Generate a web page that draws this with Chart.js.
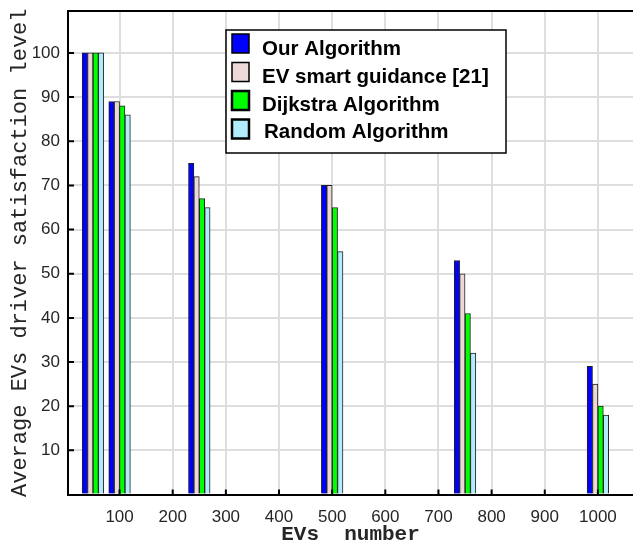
<!DOCTYPE html>
<html lang="en">
<head>
    <meta charset="UTF-8">
    <title>Average EVs driver satisfaction level</title>
    <script src="https://cdn.jsdelivr.net/npm/chart.js"></script>
    <style>
        body { margin: 0; background: #fff; }
        canvas { display: block; }
    </style>
</head>
<body>
    <canvas id="myChart" width="633" height="547"></canvas>
    <script>
        // values
        const evCounts = [50, 100, 250, 500, 750, 1000];
        const ourAlgorithm = [100, 89, 75, 70, 53, 29];
        const evSmartGuidance = [100, 89, 72, 70, 50, 25];
        const dijkstraAlgorithm = [100, 88, 67, 65, 41, 20];
        const randomAlgorithm = [100, 86, 65, 55, 32, 18];

        const seriesNames = ['Our Algorithm', 'EV smart guidance [21]', 'Dijkstra Algorithm', 'Random Algorithm'];
        const seriesColors = ['#0000ff', '#ecd8d6', '#00ff00', '#b0ecfb'];
        const seriesValues = [ourAlgorithm, evSmartGuidance, dijkstraAlgorithm, randomAlgorithm];

        const toPoints = vals => vals.map((v, i) => ({ x: evCounts[i], y: v }));

        // top frame line + inward tick marks
        const framePlugin = {
            id: 'frame',
            afterDraw(chart) {
                const ctx = chart.ctx;
                const a = chart.chartArea;
                ctx.save();
                ctx.strokeStyle = '#000';
                ctx.lineWidth = 2;
                ctx.beginPath();
                ctx.moveTo(a.left - 1, a.top);
                ctx.lineTo(a.right, a.top);
                ctx.stroke();

                const xs = chart.scales.x, ys = chart.scales.y;
                ctx.beginPath();
                xs.ticks.forEach(t => {
                    const px = xs.getPixelForValue(t.value);
                    ctx.moveTo(px, a.bottom);
                    ctx.lineTo(px, a.bottom - 5);
                });
                ys.ticks.forEach(t => {
                    if (t.value === 0) return;
                    const py = ys.getPixelForValue(t.value);
                    ctx.moveTo(a.left, py);
                    ctx.lineTo(a.left + 6, py);
                });
                ctx.stroke();
                ctx.restore();
            }
        };

        // legend box drawn inside the plot
        const boxLegendPlugin = {
            id: 'boxLegend',
            afterDraw(chart) {
                const ctx = chart.ctx;
                const boxX = 226, boxY = 30, boxW = 280, boxH = 123;
                ctx.save();
                ctx.fillStyle = '#fff';
                ctx.fillRect(boxX, boxY, boxW, boxH);
                ctx.strokeStyle = '#000';
                ctx.lineWidth = 1.5;
                ctx.strokeRect(boxX, boxY, boxW, boxH);

                const borderW = [1.5, 1.5, 2.5, 2.5];
                ctx.font = 'bold 20.5px "Liberation Sans", Arial, sans-serif';
                ctx.textBaseline = 'alphabetic';
                chart.data.datasets.forEach((ds, i) => {
                    const top = 34 + i * 28.5;
                    ctx.fillStyle = ds.backgroundColor;
                    ctx.fillRect(232, top, 17, 19);
                    ctx.lineWidth = borderW[i];
                    ctx.strokeStyle = '#000';
                    ctx.strokeRect(232, top, 17, 19);
                    ctx.fillStyle = '#000';
                    ctx.fillText(ds.label, 262 + (i === 3 ? 2 : 0), 55 + i * 27.8);
                });
                ctx.restore();
            }
        };

        const ctx = document.getElementById('myChart').getContext('2d');
        new Chart(ctx, {
            type: 'bar',
            data: {
                datasets: seriesValues.map((vals, i) => ({
                    label: seriesNames[i],
                    data: toPoints(vals),
                    backgroundColor: seriesColors[i],
                    borderColor: '#222',
                    borderWidth: 1,
                    barThickness: 5.4
                }))
            },
            options: {
                responsive: false,
                animation: false,
                layout: { padding: { top: 11, right: 0, left: 0, bottom: 0 } },
                plugins: {
                    legend: { display: false },
                    tooltip: { enabled: false }
                },
                scales: {
                    x: {
                        type: 'linear',
                        min: 3,
                        max: 1066,
                        offset: false,
                        afterFit: s => {
                            s.height = 52.5;
                            s.paddingLeft = 0;
                            s.paddingRight = 0;
                        },
                        grid: { color: '#dedede', lineWidth: 2, drawTicks: false, offset: false },
                        border: { color: '#000', width: 2 },
                        ticks: {
                            stepSize: 100,
                            includeBounds: false,
                            padding: 13,
                            color: '#262626',
                            font: { family: '"Liberation Sans", Arial, sans-serif', size: 17 },
                            callback: v => String(v)
                        },
                        title: {
                            display: true,
                            text: 'EVs  number',
                            color: '#262626',
                            padding: 0,
                            font: { family: '"Liberation Mono", "Courier New", monospace', size: 21, weight: 'bold' }
                        }
                    },
                    y: {
                        min: 0,
                        max: 109.5,
                        afterFit: s => {
                            s.width = 68;
                            s.paddingTop = 0;
                            s.paddingBottom = 0;
                        },
                        grid: { color: '#dedede', lineWidth: 2, drawTicks: false },
                        border: { color: '#000', width: 2 },
                        ticks: {
                            stepSize: 10,
                            includeBounds: false,
                            padding: 8,
                            color: '#262626',
                            font: { family: '"Liberation Sans", Arial, sans-serif', size: 17 },
                            callback: v => v === 0 ? '' : String(v)
                        },
                        title: {
                            display: true,
                            text: 'Average EVs driver satisfaction level',
                            color: '#262626',
                            padding: { top: 7, bottom: 0 },
                            font: { family: '"Liberation Mono", "Courier New", monospace', size: 22 }
                        }
                    }
                }
            },
            plugins: [framePlugin, boxLegendPlugin]
        });
    </script>
</body>
</html>
